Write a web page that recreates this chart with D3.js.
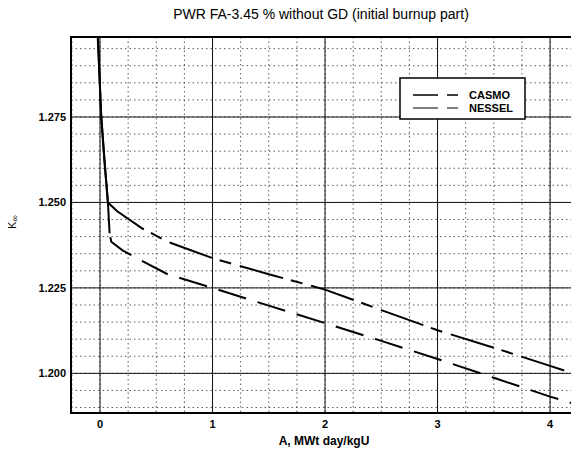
<!DOCTYPE html>
<html>
<head>
<style>
html, body { margin: 0; padding: 0; background: #fff; }
svg { width: 571px; height: 462px; display: block; font-family: "Liberation Sans", Arial, sans-serif; }
</style>
</head>
<body>
<svg></svg>
<script src="https://cdn.jsdelivr.net/npm/d3@7/dist/d3.min.js"></script>
<script>
// burnup, MWt day/kgU
var casmoX = [-0.02, 0.01, 0.04, 0.07, 0.15, 0.37, 0.6, 1, 1.5, 2, 2.5, 3, 3.5, 4, 4.2];
var casmoK = [1.300, 1.275, 1.262, 1.250, 1.2475, 1.2425, 1.2385, 1.2337, 1.229, 1.2245, 1.2185, 1.2126, 1.2075, 1.2022, 1.2000];
var nesselX = [-0.02, 0.01, 0.04, 0.07, 0.085, 0.1, 0.2, 0.36, 0.6, 1, 1.5, 2, 2.5, 3, 3.5, 4, 4.2];
var nesselK = [1.298, 1.276, 1.262, 1.250, 1.241, 1.2385, 1.236, 1.2331, 1.229, 1.225, 1.2198, 1.2147, 1.2095, 1.2042, 1.1987, 1.1932, 1.1912];
var xTicks = [0, 1, 2, 3, 4];
var yTicks = [1.200, 1.225, 1.250, 1.275];
var seriesNames = ["CASMO", "NESSEL"];

var svg = d3.select("svg");
var pL = 71, pR = 571, pT = 37, pB = 413;

var x = d3.scaleLinear().domain([-0.258, 4.186]).range([pL, pR]);
var y = d3.scaleLinear().domain([1.1884, 1.2984]).range([pB, pT]);

svg.append("clipPath").attr("id", "plot")
    .append("rect").attr("x", pL).attr("y", pT)
    .attr("width", pR - pL).attr("height", pB - pT);

var plot = svg.append("g").attr("clip-path", "url(#plot)");

// minor grid (dotted)
plot.selectAll(".mx").data(d3.range(-0.25, 4.3, 0.25)).enter().append("line")
    .attr("x1", function(d){ return x(d) }).attr("x2", function(d){ return x(d) })
    .attr("y1", pT).attr("y2", pB)
    .attr("stroke", "#333").attr("stroke-width", 0.8).attr("stroke-dasharray", "1.5,3");
plot.selectAll(".my").data(d3.range(1.185, 1.30, 0.005)).enter().append("line")
    .attr("y1", function(d){ return y(d) }).attr("y2", function(d){ return y(d) })
    .attr("x1", pL).attr("x2", pR)
    .attr("stroke", "#333").attr("stroke-width", 0.8).attr("stroke-dasharray", "1.5,3");

// major grid
plot.selectAll(".Mx").data(xTicks).enter().append("line")
    .attr("x1", function(d){ return x(d) }).attr("x2", function(d){ return x(d) })
    .attr("y1", pT).attr("y2", pB)
    .attr("stroke", "#111").attr("stroke-width", 1);
plot.selectAll(".My").data(yTicks).enter().append("line")
    .attr("y1", function(d){ return y(d) }).attr("y2", function(d){ return y(d) })
    .attr("x1", pL).attr("x2", pR)
    .attr("stroke", "#111").attr("stroke-width", 1);

// frame (right side is cut off in the original)
svg.append("path")
    .attr("d", "M" + pR + "," + pT + "H" + pL + "V" + pB + "H" + pR)
    .attr("fill", "none").attr("stroke", "#000").attr("stroke-width", 2);

var line = d3.line()
    .x(function(d){ return x(d[0]) })
    .y(function(d){ return y(d[1]) });

var dashes = ["45,8,12,9", "29,8"];
var steepEnd = [0.07, 0.085];

var series = [d3.zip(casmoX, casmoK), d3.zip(nesselX, nesselK)];
series.forEach(function(s, i){
    // steep start drawn solid, the rest dashed
    var steep = s.filter(function(p){ return p[0] <= steepEnd[i] });
    var tail = s.filter(function(p){ return p[0] >= steepEnd[i] });
    plot.append("path").attr("d", line(steep))
        .attr("fill", "none").attr("stroke", "#000").attr("stroke-width", 2);
    plot.append("path").attr("d", line(tail))
        .attr("fill", "none").attr("stroke", "#000").attr("stroke-width", 2)
        .attr("stroke-dasharray", i == 1 ? "0,4," + dashes[i] : dashes[i]);
});

// tick labels
svg.selectAll(".xt").data(xTicks).enter().append("text")
    .attr("x", function(d){ return x(d) }).attr("y", 428)
    .attr("text-anchor", "middle").attr("font-size", 11).attr("font-weight", "bold")
    .text(function(d){ return d });
svg.selectAll(".yt").data(yTicks).enter().append("text")
    .attr("x", 66).attr("y", function(d){ return y(d) + 4 })
    .attr("text-anchor", "end").attr("font-size", 11).attr("font-weight", "bold")
    .text(function(d){ return d3.format(".3f")(d) });

svg.append("text").attr("x", 324).attr("y", 445)
    .attr("text-anchor", "middle").attr("font-size", 12).attr("font-weight", "bold")
    .text("A, MWt day/kgU");

svg.append("text").attr("transform", "translate(16,222) rotate(-90)")
    .attr("text-anchor", "middle").attr("font-size", 11)
    .html('K<tspan font-size="9" dy="2">∞</tspan>');

svg.append("text").attr("x", 321).attr("y", 19)
    .attr("text-anchor", "middle").attr("font-size", 14)
    .text("PWR FA-3.45 % without GD (initial burnup part)");

// legend
var lg = svg.append("g");
lg.append("rect").attr("x", 400).attr("y", 78).attr("width", 125).attr("height", 41)
    .attr("fill", "#fff").attr("stroke", "#000").attr("stroke-width", 1.5);
seriesNames.forEach(function(n, i){
    var yy = 95 + i * 13;
    lg.append("line").attr("x1", 413).attr("x2", 458).attr("y1", yy).attr("y2", yy)
        .attr("stroke", "#000").attr("stroke-width", i == 0 ? 1.6 : 1.2)
        .attr("stroke-dasharray", "25,9,11");
    lg.append("text").attr("x", 469).attr("y", yy + 4)
        .attr("font-size", 11).attr("font-weight", "bold").text(n);
});
</script>
</body>
</html>
